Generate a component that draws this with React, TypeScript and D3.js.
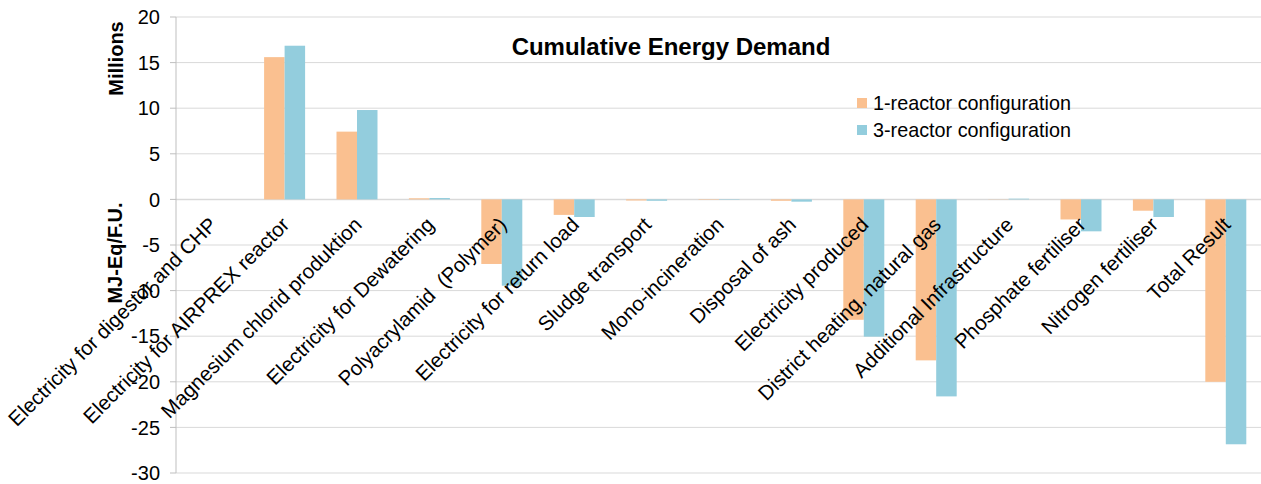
import React from "react";
import * as d3 from "d3";

const categories = [
  "Electricity for digestor and CHP",
  "Electricity for AIRPREX reactor",
  "Magnesium chlorid produktion",
  "Electricity for Dewatering",
  "Polyacrylamid  (Polymer)",
  "Electricity for return load",
  "Sludge transport",
  "Mono-incineration",
  "Disposal of ash",
  "Electricity produced",
  "District heating, natural gas",
  "Additional Infrastructure",
  "Phosphate fertiliser",
  "Nitrogen fertiliser",
  "Total Result",
];
const series = ["1-reactor configuration", "3-reactor configuration"];
const oneReactor = [0, 15.6, 7.43, 0.12, -7.08, -1.7, -0.12, -0.05, -0.15, -13.2, -17.65, 0.02, -2.2, -1.24, -20.0];
const threeReactor = [0, 16.85, 9.8, 0.15, -9.46, -1.93, -0.15, -0.05, -0.25, -15.05, -21.6, 0.08, -3.5, -1.93, -26.85];
const yTicks = [20, 15, 10, 5, 0, -5, -10, -15, -20, -25, -30];
const colors = ["#FAC090", "#93CDDD"];

const W = 1261;
const H = 484;
const left = 176;
const right = 1262;
const top = 17;
const bottom = 473;
const font = "'Liberation Sans', Arial, sans-serif";

export default function App() {
  const y = d3.scaleLinear().domain([-30, 20]).range([bottom, top]);
  const x0 = d3.scaleBand<string>().domain(categories).range([left, right]).padding(0);
  const x1 = d3
    .scaleBand<string>()
    .domain(series)
    .range([0, x0.step()])
    .paddingInner(0)
    .paddingOuter(0.766);
  const values = [oneReactor, threeReactor];

  return (
    <svg
      width={W}
      height={H}
      style={{ position: "absolute", left: 0, top: 0, background: "#fff" }}
      fontFamily={font}
    >
      {yTicks.map((t) => (
        <g key={t}>
          <line x1={left} x2={right} y1={y(t)} y2={y(t)} stroke="#D9D9D9" strokeWidth={t === 0 ? 1.5 : 1} />
          <line x1={left - 6} x2={left} y1={y(t)} y2={y(t)} stroke="#BFBFBF" />
          <text x={160} y={y(t)} dy="0.36em" textAnchor="end" fontSize={20} fill="#000">
            {t}
          </text>
        </g>
      ))}
      <line x1={left} x2={left} y1={top} y2={bottom} stroke="#BFBFBF" />
      {series.map((s, si) =>
        categories.map((c, ci) => {
          const v = values[si][ci];
          const y0 = y(0);
          const yv = y(v);
          return (
            <rect
              key={s + c}
              x={(x0(c) as number) + (x1(s) as number)}
              width={x1.bandwidth()}
              y={Math.min(y0, yv)}
              height={Math.abs(yv - y0)}
              fill={colors[si]}
            />
          );
        })
      )}
      {categories.map((c) => {
        const cx = (x0(c) as number) + x0.bandwidth() / 2;
        return (
          <text
            key={c}
            transform={`translate(${cx + 6},${226}) rotate(-45)`}
            textAnchor="end"
            fontSize={20.5}
            fill="#000"
            style={{ whiteSpace: "pre" }}
          >
            {c}
          </text>
        );
      })}
      <text x={671} y={55} textAnchor="middle" fontSize={24} fontWeight="bold" fill="#000">
        Cumulative Energy Demand
      </text>
      <text transform={`translate(123,58.5) rotate(-90)`} textAnchor="middle" fontSize={20} fontWeight="bold">
        Millions
      </text>
      <text transform={`translate(122,253) rotate(-90)`} textAnchor="middle" fontSize={20} fontWeight="bold">
        MJ-Eq/F.U.
      </text>
      {series.map((s, i) => (
        <g key={s}>
          <rect x={857} y={98 + i * 27} width={10} height={10} fill={colors[i]} />
          <text x={873} y={110 + i * 27} fontSize={19.8} fill="#000">
            {s}
          </text>
        </g>
      ))}
    </svg>
  );
}
